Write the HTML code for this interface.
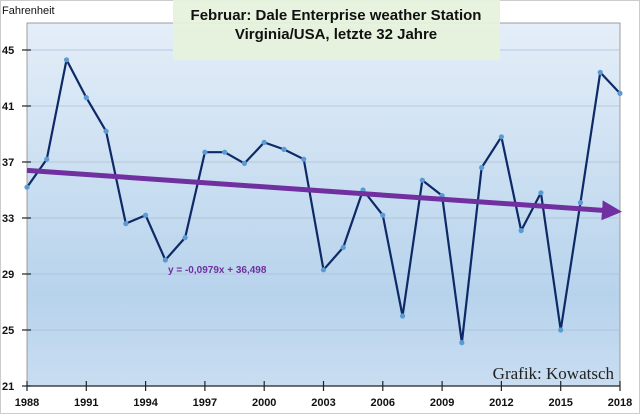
<!DOCTYPE html>
<html><head><meta charset="utf-8"><style>
body{margin:0;background:#fff;}
svg{display:block;font-family:"Liberation Sans",sans-serif;}
</style></head><body>
<svg width="640" height="414" viewBox="0 0 640 414">
<defs>
<linearGradient id="bg" x1="0" y1="0" x2="0" y2="1">
<stop offset="0" stop-color="#e4eef8"/><stop offset="0.75" stop-color="#b7d3ec"/><stop offset="1" stop-color="#c9ddf1"/>
</linearGradient>
<marker id="arr" markerWidth="4" markerHeight="4" refX="2" refY="2" orient="auto" markerUnits="strokeWidth">
<path d="M0,0 L4,2 L0,4 z" fill="#7030a0"/></marker>
</defs>
<rect x="0.5" y="0.5" width="639" height="413" fill="#fff" stroke="#ccc"/>
<rect x="27" y="23" width="593" height="363" fill="url(#bg)" stroke="#888" stroke-width="0.8"/>
<g id="grid"></g>
<g id="axes"></g>
<rect x="173" y="0" width="327" height="60" fill="#e6f2dc" opacity="0.95"/>
<text x="336" y="20" text-anchor="middle" font-size="15" font-weight="bold" fill="#111">Februar: Dale Enterprise weather Station</text>
<text x="336" y="39" text-anchor="middle" font-size="15" font-weight="bold" fill="#111">Virginia/USA, letzte 32 Jahre</text>
<text x="2" y="14" font-size="11" fill="#111">Fahrenheit</text>
<g id="series"></g>
<text x="168" y="273" font-size="10" font-weight="bold" fill="#7030a0">y = -0,0979x + 36,498</text>
<text x="614" y="379" text-anchor="end" font-size="17" font-family="Liberation Serif,serif" fill="#222">Grafik: Kowatsch</text>
</svg>
<script>
const years=[1988,1989,1990,1991,1992,1993,1994,1995,1996,1997,1998,1999,2000,2001,2002,2003,2004,2005,2006,2007,2008,2009,2010,2011,2012,2013,2014,2015,2016,2017,2018];
const temps=[35.2,37.2,44.3,41.6,39.2,32.6,33.2,30.0,31.6,37.7,37.7,36.9,38.4,37.9,37.2,29.3,30.9,35.0,33.2,26.0,35.7,34.6,24.1,36.6,38.8,32.1,34.8,25.0,34.1,43.4,41.9];
const yTicks=[21,25,29,33,37,41,45];
const xTicks=[1988,1991,1994,1997,2000,2003,2006,2009,2012,2015,2018];
const trendSlope=-0.0979, trendIntercept=36.498;
const NS='http://www.w3.org/2000/svg';
const X0=27,X1=620,Y0=386,Y1=50;
const xs=y=>X0+(y-1988)/(2018-1988)*(X1-X0);
const ys=v=>Y0-(v-21)/(45-21)*(Y0-Y1);
function mk(tag,attrs,parent){const e=document.createElementNS(NS,tag);for(const k in attrs)e.setAttribute(k,attrs[k]);document.getElementById(parent).appendChild(e);return e;}
yTicks.forEach(t=>{
 if(t>21){const g=mk('line',{x1:X0,x2:X1,y1:ys(t),y2:ys(t),stroke:'#a9bfd3','stroke-width':0.8},'grid');
 
 }
 const tk=mk('line',{x1:X0-5,x2:X0+4,y1:ys(t),y2:ys(t),stroke:'#222','stroke-width':1.2},'axes');
 
 
 const l=mk('text',{x:2,y:ys(t)+4,'font-size':11,'font-weight':'bold',fill:'#111'},'axes');l.textContent=t;
 
 
});
mk('line',{x1:X0,x2:X1,y1:Y0,y2:Y0,stroke:'#222','stroke-width':1.2},'axes');
xTicks.forEach(t=>{
 const tk=mk('line',{x1:xs(t),x2:xs(t),y1:Y0-5,y2:Y0+5,stroke:'#222','stroke-width':1.2},'axes');
 
 
 const l=mk('text',{x:xs(t),y:Y0+20,'font-size':11,'font-weight':'bold',fill:'#111','text-anchor':'middle'},'axes');l.textContent=t;
 
 
});
const pts=years.map((y,i)=>xs(y)+','+ys(temps[i])).join(' ');
const pl=mk('polyline',{points:pts,fill:'none',stroke:'#0d2a66','stroke-width':2.2,'stroke-linejoin':'round'},'series');


years.forEach((y,i)=>{const c=mk('circle',{cx:xs(y),cy:ys(temps[i]),r:2.6,fill:'#5b9bd5'},'series');
 
 });
const ty=i=>trendIntercept+trendSlope*i;
const tl=mk('line',{x1:xs(1988),y1:ys(ty(1)),x2:xs(2018)-8,y2:ys(ty(31))-0.5,stroke:'#7030a0','stroke-width':5,'marker-end':'url(#arr)'},'series');


</script>
</body></html>
